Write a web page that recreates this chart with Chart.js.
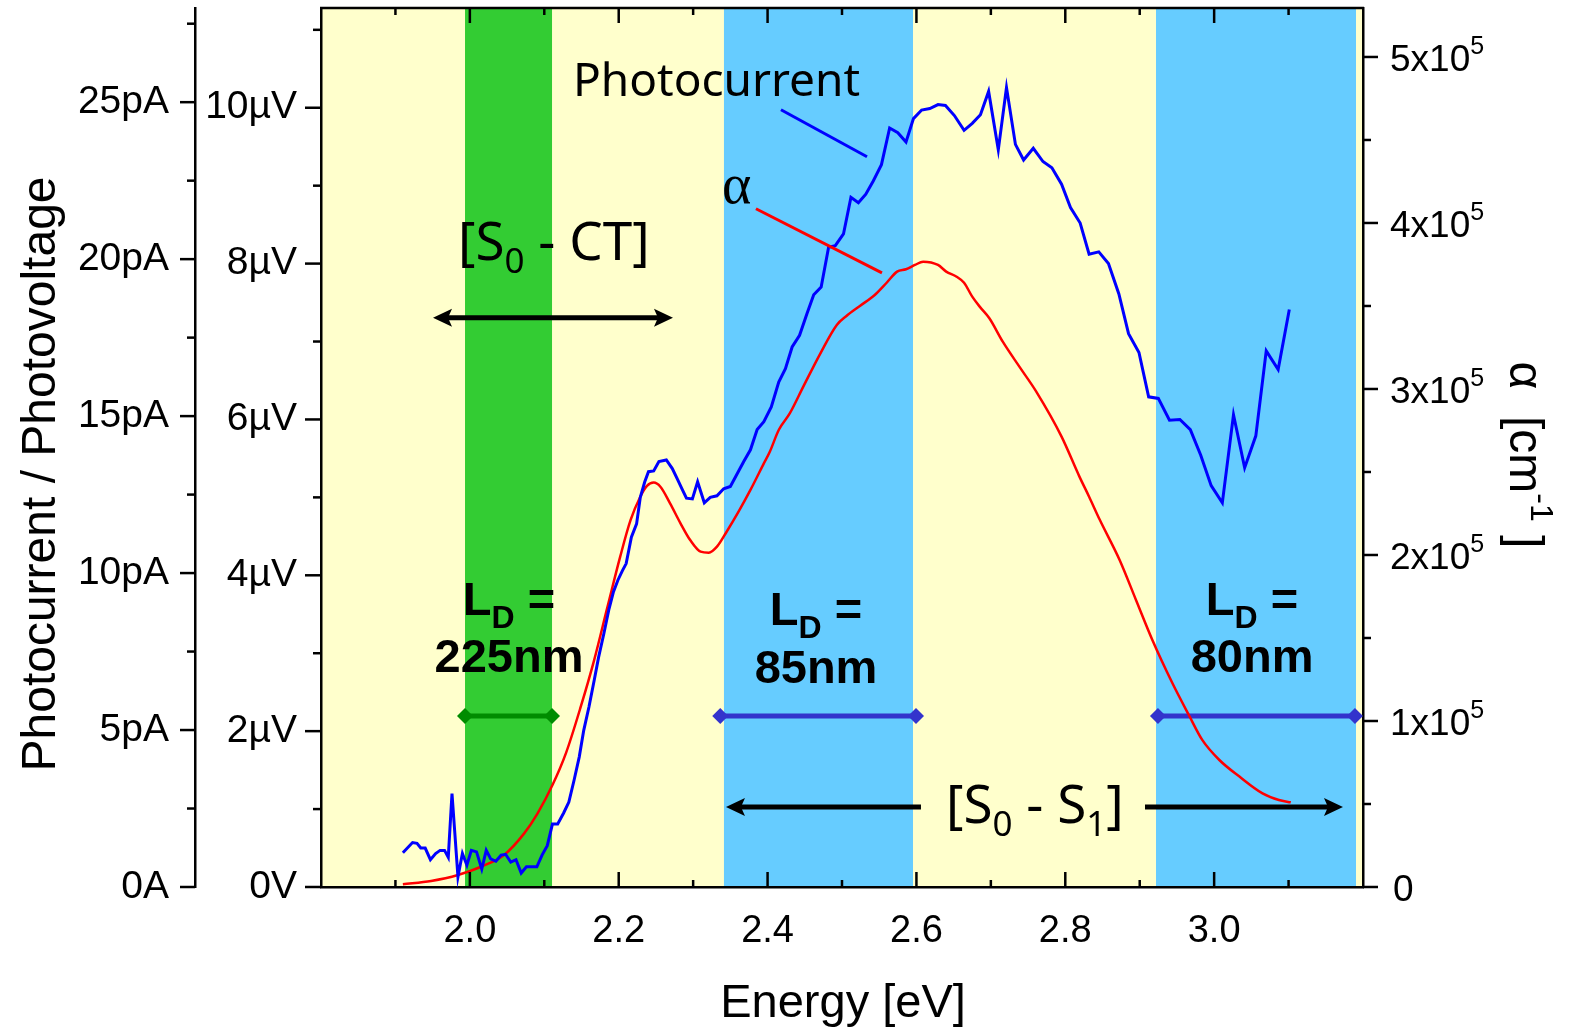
<!DOCTYPE html>
<html>
<head>
<meta charset="utf-8">
<script src="https://cdn.jsdelivr.net/npm/chart.js@4.4.1/dist/chart.umd.min.js"></script>
<style>
  html, body { margin: 0; padding: 0; background: #fff; }
</style>
</head>
<body>
<canvas id="spectrum" width="1570" height="1032"></canvas>
<script>
// photocurrent / photovoltage (µV on the inner left axis)
const pcEnergy = [1.910, 1.923, 1.929, 1.934, 1.940, 1.947, 1.954, 1.960, 1.966, 1.971, 1.976, 1.984, 1.990, 1.996,
  2.002, 2.009, 2.016, 2.022, 2.028, 2.035, 2.042, 2.048, 2.055, 2.062, 2.069, 2.076, 2.090, 2.097, 2.104, 2.111,
  2.118, 2.126, 2.133, 2.140, 2.147, 2.153, 2.160, 2.167, 2.173, 2.180, 2.187, 2.193, 2.199, 2.205, 2.210, 2.217,
  2.224, 2.229, 2.235, 2.240, 2.247, 2.254, 2.264, 2.272, 2.279, 2.285, 2.291, 2.299, 2.306, 2.315, 2.323, 2.332,
  2.341, 2.350, 2.359, 2.368, 2.377, 2.386, 2.395, 2.405, 2.415, 2.424, 2.433, 2.443, 2.453, 2.462, 2.472, 2.482,
  2.491, 2.502, 2.512, 2.522, 2.532, 2.542, 2.553, 2.564, 2.575, 2.586, 2.596, 2.607, 2.618, 2.629, 2.639, 2.651,
  2.664, 2.675, 2.686, 2.697, 2.710, 2.721, 2.733, 2.744, 2.757, 2.770, 2.782, 2.795, 2.807, 2.820, 2.832, 2.845,
  2.858, 2.872, 2.885, 2.899, 2.912, 2.925, 2.940, 2.954, 2.968, 2.982, 2.996, 3.011, 3.026, 3.041, 3.056, 3.070,
  3.086, 3.101];
const pcVoltage = [0.44, 0.57, 0.56, 0.50, 0.50, 0.35, 0.43, 0.47, 0.47, 0.38, 1.20, 0.13, 0.43, 0.28,
  0.47, 0.45, 0.23, 0.47, 0.36, 0.33, 0.41, 0.42, 0.32, 0.35, 0.18, 0.26, 0.26, 0.41, 0.53, 0.81,
  0.81, 0.95, 1.09, 1.37, 1.67, 2.01, 2.31, 2.65, 2.95, 3.25, 3.57, 3.79, 3.94, 4.06, 4.15, 4.49,
  4.66, 5.00, 5.20, 5.33, 5.34, 5.46, 5.48, 5.37, 5.23, 5.11, 4.99, 4.98, 5.20, 4.93, 5.00, 5.02,
  5.11, 5.14, 5.30, 5.46, 5.61, 5.87, 5.97, 6.16, 6.48, 6.65, 6.93, 7.08, 7.36, 7.60, 7.70, 8.21,
  8.23, 8.38, 8.85, 8.78, 8.89, 9.06, 9.27, 9.74, 9.68, 9.56, 9.86, 9.97, 9.99, 10.04, 10.03, 9.90,
  9.71, 9.80, 9.91, 10.21, 9.46, 10.26, 9.53, 9.33, 9.48, 9.31, 9.23, 9.02, 8.72, 8.52, 8.12, 8.15,
  8.00, 7.61, 7.10, 6.86, 6.29, 6.27, 5.99, 6.00, 5.87, 5.54, 5.15, 4.93, 6.06, 5.38, 5.79, 6.88,
  6.64, 7.41];

// absorption coefficient alpha, in units of 1e5 cm^-1
const alphaEnergy = [1.910, 1.948, 1.984, 2.015, 2.046, 2.073, 2.091, 2.111, 2.129, 2.149, 2.167, 2.185, 2.202,
  2.216, 2.229, 2.238, 2.247, 2.256, 2.269, 2.283, 2.296, 2.310, 2.321, 2.332, 2.345, 2.361, 2.377, 2.395,
  2.403, 2.415, 2.430, 2.448, 2.471, 2.493, 2.506, 2.524, 2.544, 2.560, 2.574, 2.586, 2.598, 2.609, 2.629,
  2.640, 2.654, 2.664, 2.675, 2.685, 2.698, 2.716, 2.739, 2.761, 2.795, 2.819, 2.832, 2.846, 2.873, 2.895,
  2.917, 2.944, 2.966, 2.984, 3.007, 3.034, 3.065, 3.087, 3.103];
const alphaValues = [0.016, 0.036, 0.072, 0.122, 0.193, 0.323, 0.444, 0.614, 0.805, 1.086, 1.367, 1.689, 1.990,
  2.211, 2.351, 2.416, 2.436, 2.411, 2.311, 2.191, 2.090, 2.020, 2.014, 2.050, 2.140, 2.261, 2.392, 2.552,
  2.622, 2.753, 2.854, 3.014, 3.215, 3.386, 3.440, 3.500, 3.566, 3.640, 3.707, 3.721, 3.747, 3.767, 3.747,
  3.707, 3.676, 3.640, 3.556, 3.496, 3.426, 3.285, 3.130, 2.984, 2.713, 2.472, 2.351, 2.215, 1.970, 1.729,
  1.488, 1.227, 1.036, 0.886, 0.765, 0.665, 0.564, 0.524, 0.510];

// shaded energy windows
const bandFrom = [1.9935, 2.3414, 2.9219];
const bandTo = [2.1104, 2.5954, 3.1906];
const bandColors = ['#33cc33', '#66ccff', '#66ccff'];

// diffusion length bars and labels
const ldFrom = [1.9935, 2.3364, 2.9245];
const ldTo = [2.1104, 2.5994, 3.1892];
const ldLevel = 2.195;
const ldLabels = ['225nm', '85nm', '80nm'];
const ldColors = ['#008c00', '#3333cc', '#3333cc'];

// axis ticks
const energyTicks = [2.0, 2.2, 2.4, 2.6, 2.8, 3.0];
const voltTicks = [0, 2, 4, 6, 8, 10];
const ampTicks = [0, 5, 10, 15, 20, 25];
const alphaTicks = [0, 1, 2, 3, 4, 5];

const FONT = "'Liberation Sans', Arial, sans-serif";
const LABEL_FONT = "'Noto Sans', sans-serif";

function richText(ctx, parts, x, y, align) {
  let total = 0;
  parts.forEach(p => { ctx.font = p.font; p.w = ctx.measureText(p.t).width; total += p.w; });
  let cx = align === 'center' ? x - total / 2 : x;
  ctx.textAlign = 'left';
  parts.forEach(p => { ctx.font = p.font; ctx.fillText(p.t, cx, y + (p.dy || 0)); cx += p.w; });
}

function arrowHead(ctx, tip, y, dir) {
  ctx.beginPath();
  ctx.moveTo(tip, y);
  ctx.lineTo(tip - dir * 19, y - 9);
  ctx.lineTo(tip - dir * 15, y);
  ctx.lineTo(tip - dir * 19, y + 9);
  ctx.closePath();
  ctx.fill();
}

function segment(ctx, x0, y0, x1, y1) {
  ctx.beginPath();
  ctx.moveTo(x0, y0);
  ctx.lineTo(x1, y1);
  ctx.stroke();
}

const decor = {
  id: 'decor',
  beforeDraw(chart) {
    const { ctx, chartArea: a, scales: { x } } = chart;
    ctx.save();
    ctx.fillStyle = '#ffffcc';
    ctx.fillRect(a.left, a.top, a.right - a.left, a.bottom - a.top);
    bandFrom.forEach((from, i) => {
      const x0 = x.getPixelForValue(from);
      const x1 = x.getPixelForValue(bandTo[i]);
      ctx.fillStyle = bandColors[i];
      ctx.fillRect(x0, a.top, x1 - x0, a.bottom - a.top);
    });
    ctx.restore();
  },
  afterDatasetsDraw(chart) {
    const { ctx, scales: { x, yV } } = chart;
    const X = v => x.getPixelForValue(v);
    const Y = v => yV.getPixelForValue(v);
    ctx.save();
    ctx.lineCap = 'butt';

    // pointer lines
    ctx.lineWidth = 3;
    ctx.strokeStyle = '#0000ff';
    segment(ctx, X(2.418), Y(9.974), X(2.5336), Y(9.371));
    ctx.strokeStyle = '#ff0000';
    segment(ctx, X(2.3844), Y(8.704), X(2.5537), Y(7.882));

    ctx.fillStyle = '#000';
    ctx.textBaseline = 'alphabetic';
    ctx.textAlign = 'left';
    ctx.font = "46px " + LABEL_FONT;
    ctx.fillText('Photocurrent', X(2.1386), Y(10.154));
    ctx.font = "56px 'Liberation Serif', serif";
    ctx.fillText('α', X(2.3388), Y(8.781));

    // [S0 - CT] and its double arrow
    const big = "53px " + LABEL_FONT, sub = "35px " + LABEL_FONT;
    richText(ctx, [{ t: '[S', font: big }, { t: '0', font: sub, dy: 13 }, { t: ' - CT]', font: big }],
      X(1.9841), Y(8.049), 'left');
    ctx.strokeStyle = '#000';
    ctx.lineWidth = 5;
    let ay = Y(7.304);
    segment(ctx, X(1.9505) + 15, ay, X(2.2729) - 15, ay);
    arrowHead(ctx, X(1.9505), ay, -1);
    arrowHead(ctx, X(2.2729), ay, 1);

    // [S0 - S1] with arrows
    richText(ctx, [{ t: '[S', font: big }, { t: '0', font: sub, dy: 13 }, { t: ' - S', font: big },
      { t: '1', font: sub, dy: 13 }, { t: ']', font: big }], X(2.6397), Y(0.8216), 'left');
    ay = Y(1.027);
    segment(ctx, X(2.6061), ay, X(2.3441) + 15, ay);
    arrowHead(ctx, X(2.3441), ay, -1);
    segment(ctx, X(2.9071), ay, X(3.1731) - 15, ay);
    arrowHead(ctx, X(3.1731), ay, 1);

    // diffusion length labels
    const bold = "bold 47px " + FONT, boldSub = "bold 32px " + FONT;
    const ldCenter = [2.0526, 2.4651, 3.0509];
    const ldTop = [3.4917, 3.3633, 3.4917];
    const ldBottom = [2.760, 2.6187, 2.760];
    ldLabels.forEach((lab, i) => {
      richText(ctx, [{ t: 'L', font: bold }, { t: 'D', font: boldSub, dy: 13 }, { t: ' =', font: bold }],
        X(ldCenter[i]), Y(ldTop[i]), 'center');
      ctx.font = bold;
      ctx.textAlign = 'center';
      ctx.fillText(lab, X(ldCenter[i]), Y(ldBottom[i]));
    });
    ctx.restore();
  },
  afterDraw(chart) {
    const { ctx, chartArea: a, scales: { x, yV, yA, yAlpha } } = chart;
    ctx.save();
    ctx.strokeStyle = '#000';
    ctx.lineWidth = 2.5;
    ctx.lineCap = 'butt';

    // top frame line
    segment(ctx, a.left - 1, a.top, a.right + 1, a.top);

    // x ticks, inward on bottom and top
    for (let k = 0; k <= 12; k++) {
      const v = 1.9 + k * 0.1;
      const px = x.getPixelForValue(v);
      const len = (k % 2 === 1) ? 15 : 7;
      segment(ctx, px, a.bottom, px, a.bottom - len);
      segment(ctx, px, a.top, px, a.top + len);
    }
    // left inner axis (µV)
    for (let v = 0; v <= 11; v++) {
      const py = yV.getPixelForValue(v);
      segment(ctx, yV.right, py, yV.right - (v % 2 === 0 ? 16 : 8), py);
    }
    // left outer axis (pA)
    for (let v = 0; v <= 27.5; v += 2.5) {
      const py = yA.getPixelForValue(v);
      segment(ctx, yA.right, py, yA.right - (v % 5 === 0 ? 15 : 8), py);
    }
    // right axis (alpha)
    for (let v = 0; v <= 5; v += 0.5) {
      const py = yAlpha.getPixelForValue(v);
      segment(ctx, yAlpha.left, py, yAlpha.left + (v % 1 === 0 ? 15 : 8), py);
    }

    // right axis labels with superscripts
    ctx.fillStyle = '#000';
    ctx.textBaseline = 'alphabetic';
    alphaTicks.forEach(v => {
      const py = yAlpha.getPixelForValue(v) + 14;
      const lx = yAlpha.left + 27;
      if (v === 0) {
        ctx.font = "37px " + FONT;
        ctx.textAlign = 'left';
        ctx.fillText('0', lx + 3, py);
      } else {
        richText(ctx, [{ t: v + 'x10', font: "37px " + FONT }, { t: '5', font: "25px " + FONT, dy: -17 }], lx, py, 'left');
      }
    });

    // axis titles
    ctx.font = "47px " + FONT;
    ctx.textAlign = 'center';
    ctx.fillText('Energy [eV]', 843, 1017);

    ctx.save();
    ctx.translate(55, 474);
    ctx.rotate(-Math.PI / 2);
    ctx.font = "48px " + FONT;
    ctx.fillText('Photocurrent / Photovoltage', 0, 0);
    ctx.restore();

    ctx.save();
    ctx.translate(1510, 455);
    ctx.rotate(Math.PI / 2);
    richText(ctx, [{ t: 'α  [cm', font: "48px " + FONT }, { t: '-1', font: "32px " + FONT, dy: -21 },
      { t: ' ]', font: "48px " + FONT }], 0, 0, 'center');
    ctx.restore();
    ctx.restore();
  }
};

function fixed(size, horizontal) {
  return scale => {
    if (horizontal) scale.height = size; else scale.width = size;
    scale.paddingTop = 0; scale.paddingBottom = 0;
    scale.paddingLeft = 0; scale.paddingRight = 0;
  };
}

const ldSets = ldLabels.map((lab, i) => ({
  label: 'LD ' + lab,
  data: [{ x: ldFrom[i], y: ldLevel }, { x: ldTo[i], y: ldLevel }],
  yAxisID: 'yV',
  borderColor: ldColors[i],
  backgroundColor: ldColors[i],
  borderWidth: 5,
  pointStyle: 'rectRot',
  pointRadius: 8,
  pointBorderWidth: 0,
  order: 3
}));

new Chart(document.getElementById('spectrum').getContext('2d'), {
  type: 'line',
  data: {
    datasets: [
      {
        label: 'Photocurrent',
        data: pcEnergy.map((e, i) => ({ x: e, y: pcVoltage[i] })),
        yAxisID: 'yV',
        borderColor: '#0000ff',
        borderWidth: 3,
        pointRadius: 0,
        tension: 0,
        order: 1
      },
      {
        label: 'alpha',
        data: alphaEnergy.map((e, i) => ({ x: e, y: alphaValues[i] })),
        yAxisID: 'yAlpha',
        borderColor: '#ff0000',
        borderWidth: 2.5,
        pointRadius: 0,
        cubicInterpolationMode: 'monotone',
        order: 2
      },
      ...ldSets
    ]
  },
  options: {
    responsive: false,
    animation: false,
    events: [],
    layout: { padding: { top: 8, left: 0, right: 0, bottom: 0 } },
    plugins: { legend: { display: false }, tooltip: { enabled: false } },
    scales: {
      x: {
        type: 'linear', position: 'bottom', min: 1.8, max: 3.2,
        afterBuildTicks: s => { s.ticks = energyTicks.map(v => ({ value: v })); },
        ticks: {
          font: { family: FONT, size: 38 }, color: '#000', padding: 22, maxRotation: 0, autoSkip: false,
          callback: v => v.toFixed(1)
        },
        grid: { display: false, drawTicks: false },
        border: { display: true, color: '#000', width: 2.5 },
        afterFit: fixed(145, true)
      },
      yA: {
        position: 'left', min: 0, max: 28, weight: 10,
        afterBuildTicks: s => { s.ticks = ampTicks.map(v => ({ value: v })); },
        ticks: {
          font: { family: FONT, size: 39 }, color: '#000', padding: 26, autoSkip: false,
          callback: v => v === 0 ? '0A' : v + 'pA'
        },
        grid: { display: false, drawTicks: false },
        border: { display: true, color: '#000', width: 2.5 },
        afterFit: fixed(195, false)
      },
      yV: {
        position: 'left', min: 0, max: 11.28, weight: 0,
        afterBuildTicks: s => { s.ticks = voltTicks.map(v => ({ value: v })); },
        ticks: {
          font: { family: FONT, size: 39 }, color: '#000', padding: 24, autoSkip: false,
          callback: v => v === 0 ? '0V' : v + 'µV'
        },
        grid: { display: false, drawTicks: false },
        border: { display: true, color: '#000', width: 2.5 },
        afterFit: fixed(126, false)
      },
      yAlpha: {
        position: 'right', min: 0, max: 5.295,
        ticks: { display: false },
        grid: { display: false, drawTicks: false },
        border: { display: true, color: '#000', width: 2.5 },
        afterFit: fixed(207, false)
      }
    }
  },
  plugins: [decor]
});
</script>
</body>
</html>
